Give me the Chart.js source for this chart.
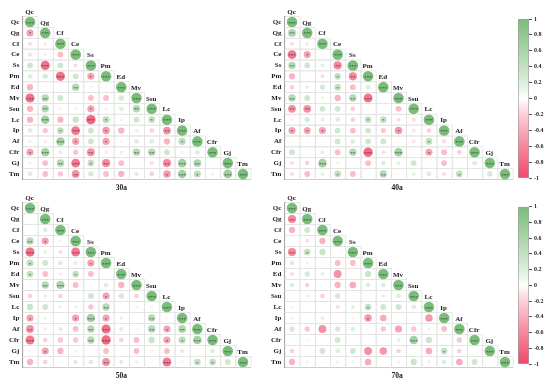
<!DOCTYPE html>
<html><head><meta charset="utf-8">
<script src="https://cdn.jsdelivr.net/npm/chart.js@4.4.1/dist/chart.umd.min.js"></script>
<style>
html,body{margin:0;padding:0;background:#fff;}
body{width:554px;height:387px;position:relative;overflow:hidden;}
canvas{position:absolute;}
</style></head><body>
<canvas id="p30" width="262" height="195" style="left:0px;top:0px"></canvas>
<canvas id="p40" width="255" height="195" style="left:262px;top:0px"></canvas>
<canvas id="p50" width="262" height="195" style="left:0px;top:190px"></canvas>
<canvas id="p70" width="255" height="195" style="left:262px;top:190px"></canvas>
<canvas id="cb1" width="36" height="180" style="left:518px;top:10px"></canvas>
<canvas id="cb2" width="36" height="180" style="left:518px;top:197px"></canvas>
<script>
const vars = ["Qc","Qg","Cf","Ce","Ss","Pm","Ed","Mv","Ssu","Lc","Ip","Af","Cfr","Gj","Tm"];
const panelTitles = ["30a","40a","50a","70a"];
const colorbarTicks = [-1,-0.8,-0.6,-0.4,-0.2,0,0.2,0.4,0.6,0.8,1];

// lower-triangle correlations (row i: columns 0..i-1); diagonal = 1
const r30 = [[],
 [-0.45],
 [-0.15,-0.1],
 [-0.15,0.1,-0.3],
 [0.3,-0.75,0.3,-0.15],
 [0.2,0.25,-0.75,0.3,-0.45],
 [-0.35,0.04,0.04,0.5,0.08,0.04],
 [-0.75,0.5,0.3,0.02,-0.3,-0.3,0.25],
 [-0.35,0.5,0.1,0.1,-0.45,0.1,0.2,0.5],
 [-0.35,0.65,-0.35,0.35,-0.8,0.45,0.08,0.3,0.4],
 [0.2,-0.25,0.4,-0.7,0.3,-0.5,-0.35,-0.1,-0.2,-0.55],
 [0.1,-0.1,0.65,-0.45,0.3,-0.45,-0.06,0.2,0.2,-0.35,0.45],
 [-0.45,0.65,0.15,-0.25,-0.55,-0.1,-0.1,0.5,0.5,0.3,0.1,0.2],
 [0.1,-0.3,0.5,-0.7,0.4,-0.6,-0.3,0.05,-0.15,-0.6,0.65,0.55,0.05],
 [0.2,-0.3,-0.25,-0.55,0.25,-0.3,-0.35,-0.15,-0.2,-0.5,0.65,0.45,0.1,0.7]];
const s30 = ["","1","00","000","0300","00301","000200","3200000","02001002","030031001","0013010002","00310100001","130020022000","0023120002320","00020000013103"];

const r40 = [[],
 [0.55],
 [-0.15,-0.1],
 [-0.7,-0.45,0.04],
 [0.5,0.3,0.15,-0.6],
 [-0.35,0.03,-0.15,0.4,-0.6],
 [-0.2,-0.1,0.25,0.4,-0.3,0.2],
 [0.5,0.3,0.1,-0.35,0.5,-0.7,0.03],
 [-0.55,-0.55,0.3,0.3,-0.2,0.03,0.03,-0.3],
 [-0.08,0.25,0.15,0.2,-0.2,0.4,0.4,-0.15,-0.15],
 [-0.45,-0.45,-0.45,0.3,-0.3,0.3,-0.25,-0.5,0.15,-0.2],
 [-0.05,-0.05,0.05,0.3,0.2,0.3,0.3,-0.05,-0.12,0.4,-0.15],
 [0.3,0,0.15,-0.3,0.5,-0.8,-0.15,0.65,0.03,-0.45,-0.3,-0.2],
 [-0.15,-0.2,0.65,0.1,0.05,-0.3,0.2,0.15,0.3,0.05,-0.3,0,0.2],
 [-0.15,-0.3,0.15,0.4,-0.3,0.03,0.5,0.05,0.15,0.2,-0.15,0.4,0.04,0.25]];
const s40 = ["","2","00","310","2002","00012","000100","2000230","22000000","000001100","1110000100","00000000010","000023030100","0030000000000","00010020000100"];

const r50 = [[],
 [0.03],
 [0.03,0.2],
 [0.5,-0.45,-0.08],
 [-0.75,0.15,-0.15,-0.7],
 [0.45,0.3,0.2,0.15,-0.45],
 [0.4,-0.3,-0.1,0.4,-0.3,0],
 [-0.05,0.5,0.6,-0.3,0,0.2,-0.35],
 [-0.2,-0.1,-0.2,0.03,0.3,-0.45,0.25,-0.2],
 [0.35,0.3,0.1,0.1,-0.25,0.5,0.03,0.1,-0.08],
 [-0.45,0.1,0.03,-0.45,0.65,-0.45,-0.1,0.03,0.5,-0.05],
 [-0.55,-0.1,-0.15,-0.3,0.5,-0.75,-0.15,-0.05,0.5,-0.45,0.55],
 [-0.7,-0.2,-0.25,-0.25,0.5,-0.8,-0.2,-0.3,0.35,-0.45,0.45,0.65],
 [-0.05,-0.45,-0.35,0.1,0,-0.3,0.03,-0.3,-0.08,-0.3,-0.15,0,0.2],
 [-0.35,-0.2,0.03,-0.15,0.2,-0.55,-0.15,-0.1,0.03,-0.7,0.1,0.4,0.4,0.3]];
const s50 = ["","0","00","210","3003","10001","100100","0230000","00000100","000002000","1001310020","20002300212","300023000113","0100000000000","00000200030110"];

const r70 = [[],
 [-0.6],
 [-0.35,0.3],
 [0,-0.15,-0.35],
 [-0.6,0.4,0.35,0.03],
 [0.2,-0.08,-0.05,-0.3,-0.3],
 [-0.15,0.25,0.15,-0.55,0,0.35],
 [0.2,-0.2,0.03,-0.35,-0.4,0.2,0.2],
 [0,-0.1,-0.2,0.25,0.03,0.03,-0.1,0.2],
 [0.08,0.03,0.03,-0.15,0.15,0.4,0.3,0.3,0.2],
 [-0.08,0.03,0.15,0.03,0.08,-0.5,-0.4,0,0,-0.5],
 [0.25,-0.25,-0.55,0.25,0.2,0.05,-0.25,-0.45,-0.25,-0.08,-0.3],
 [0,-0.05,0.03,0.3,0.03,0,-0.03,0.15,0.65,0.35,0.02,-0.25],
 [-0.2,0.03,0.3,0.2,0.3,-0.55,-0.5,-0.2,0,-0.4,0.4,-0.2,0],
 [-0.35,0.1,0.03,0.1,0.1,-0.4,0.02,0.1,0.35,-0.1,0.2,-0.4,0.3,0.02]];
const s70 = ["","2","00","000","2100","00000","000000","0000000","00000000","000001000","0000010000","00000000000","000000003000","0000000000100","00000000000000"];

const POS = [122,189,122], NEG = [240,72,104];
function colorFor(v){
  const c = v >= 0 ? POS : NEG, t = Math.pow(Math.min(1, Math.abs(v)), 0.85);
  const m = k => Math.round(255 + (c[k]-255)*t);
  return `rgb(${m(0)},${m(1)},${m(2)})`;
}
const MAXR = 5.3;
function buildPoints(r, s){
  const pts = [];
  for (let i = 0; i < vars.length; i++) {
    for (let j = 0; j <= i; j++) {
      const v = (i === j) ? 1 : r[i][j];
      const st = (i === j) ? 3 : +s[i][j];
      pts.push({x: vars[j], y: vars[i], r: MAXR*Math.sqrt(Math.abs(v)), v: v, st: st});
    }
  }
  return pts;
}
const SERIF = "'Liberation Serif','Times New Roman',serif";

const matrixPlugin = {
  id: 'matrix',
  beforeDatasetsDraw(chart){
    const xs = chart.scales.x, ys = chart.scales.y, ctx = chart.ctx;
    const n = vars.length;
    const cw = (xs.right - xs.left)/n, ch = (ys.bottom - ys.top)/n;
    ctx.save();
    ctx.strokeStyle = '#e3e3e3';
    ctx.lineWidth = 0.8;
    for (let i = 0; i < n; i++) for (let j = 0; j <= i; j++) {
      ctx.strokeRect(xs.left + j*cw + 0.5, ys.top + i*ch, cw, ch);
    }
    ctx.restore();
  },
  afterDatasetsDraw(chart, args, opts){
    const xs = chart.scales.x, ys = chart.scales.y, ctx = chart.ctx;
    const n = vars.length;
    const ch = (ys.bottom - ys.top)/n;
    const meta = chart.getDatasetMeta(0);
    ctx.save();
    ctx.fillStyle = '#2a2a2a';
    ctx.font = '5px ' + SERIF;
    ctx.textAlign = 'center';
    ctx.textBaseline = 'alphabetic';
    meta.data.forEach((el, k) => {
      const d = chart.data.datasets[0].data[k];
      if (d.st > 0) ctx.fillText('*'.repeat(d.st), el.x, el.y + 2.6);
    });
    ctx.font = 'bold 7px ' + SERIF;
    ctx.fillStyle = '#1a1a1a';
    ctx.textBaseline = 'middle';
    for (let j = 0; j < n; j++) {
      const x = xs.getPixelForValue(j), y = ys.getPixelForValue(j) - ch;
      ctx.fillText(vars[j], x - 0.5, y + 0.8);
    }
    ctx.font = 'bold 7.5px ' + SERIF;
    ctx.fillText(opts.title, xs.left + opts.titleDX, ys.bottom + 9);
    ctx.restore();
  }
};

function makePanel(id, r, s, title, titleDX, padTop, padBottom, padRight){
  new Chart(document.getElementById(id), {
    type: 'bubble',
    data: { datasets: [{
      data: buildPoints(r, s),
      backgroundColor: c => colorFor(c.raw.v),
      borderWidth: 0,
      hoverRadius: 0
    }]},
    options: {
      responsive: false, animation: false, events: [],
      layout: { autoPadding: false, padding: {left: 0, right: padRight, top: padTop, bottom: padBottom} },
      plugins: { legend: {display: false}, tooltip: {enabled: false}, matrix: {title: title, titleDX: titleDX} },
      scales: {
        x: { type: 'category', labels: vars, offset: true,
             grid: {display: false, drawTicks: false}, ticks: {display: false},
             border: {display: true, color: '#7a7a7a', width: 1},
             afterFit: sc => { sc.height = 0; } },
        y: { type: 'category', labels: vars, offset: true,
             grid: {display: false, drawTicks: false},
             ticks: {font: {family: SERIF, weight: 'bold', size: 7}, color: '#1a1a1a', padding: 3, autoSkip: false},
             border: {display: true, color: '#6a6a6a', width: 1},
             afterFit: sc => { sc.width = 22.4; } }
      }
    },
    plugins: [matrixPlugin]
  });
}

makePanel('p30', r30, s30, panelTitles[0], 99, 16.6, 15.6, 11.4);
makePanel('p40', r40, s40, panelTitles[1], 112.6, 16.6, 15.6, 4.4);
makePanel('p50', r50, s50, panelTitles[2], 99, 12.5, 17.5, 11.4);
makePanel('p70', r70, s70, panelTitles[3], 112.6, 12.5, 17.5, 4.4);

function makeColorbar(id, padTop, padBottom){
  new Chart(document.getElementById(id), {
    type: 'bar',
    data: { labels: ['r'], datasets: [{
      data: [[colorbarTicks[0], colorbarTicks[colorbarTicks.length-1]]],
      backgroundColor: c => {
        const ca = c.chart.chartArea; if (!ca) return '#fff';
        const g = c.chart.ctx.createLinearGradient(0, ca.bottom, 0, ca.top);
        for (let k = 0; k <= 20; k++) { const v = -1 + k*0.1; g.addColorStop(k/20, colorFor(v)); }
        return g;
      },
      borderColor: '#a0a0a0', borderWidth: 1, borderSkipped: false,
      categoryPercentage: 1, barPercentage: 1
    }]},
    options: {
      responsive: false, animation: false, events: [],
      layout: { autoPadding: false, padding: {left: 0, right: 0, top: padTop, bottom: padBottom} },
      plugins: { legend: {display: false}, tooltip: {enabled: false} },
      scales: {
        x: { display: false },
        y: { position: 'right', min: -1, max: 1,
             afterBuildTicks: sc => { sc.ticks = colorbarTicks.map(v => ({value: v})); },
             ticks: { callback: v => String(Math.round(v*10)/10), font: {family: SERIF, weight: 'bold', size: 6}, color: '#222', padding: 2 },
             grid: { drawOnChartArea: false, tickLength: 3, color: '#555' },
             border: { display: false },
             afterFit: sc => { sc.width = 25; } }
      }
    }
  });
}
makeColorbar('cb1', 9, 12);
makeColorbar('cb2', 9.7, 13);
</script>
</body></html>
